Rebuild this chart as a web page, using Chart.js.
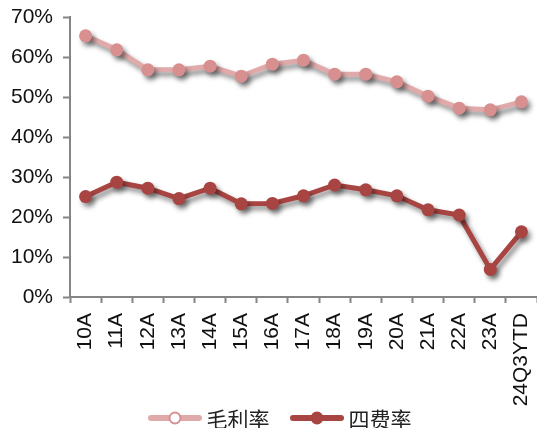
<!DOCTYPE html>
<html>
<head>
<meta charset="utf-8">
<script src="https://cdn.jsdelivr.net/npm/chart.js@4/dist/chart.umd.min.js"></script>
<style>
    html, body { margin: 0; padding: 0; background: #fff; overflow: hidden; }
    #wrap { position: relative; width: 537px; height: 428px; }
    #chart { display: block; }
    .legend {
        position: absolute; left: 0; right: 0; top: 403px;
        display: flex; justify-content: center; align-items: center;
        padding-left: 22px;
        font-family: "Noto Sans CJK SC", sans-serif; font-size: 21px; color: #222;
    }
    .legend .item { display: flex; align-items: center; }
    .legend .item + .item { margin-left: 20px; }
    .legend svg { margin-right: 5px; }
</style>
</head>
<body>
<div id="wrap">
    <canvas id="chart"></canvas>
    <div class="legend" id="legend"></div>
</div>
<script>
// Dados do gráfico
const categories = ['10A', '11A', '12A', '13A', '14A', '15A', '16A', '17A', '18A', '19A', '20A', '21A', '22A', '23A', '24Q3YTD'];
const grossMargin = [65.3, 61.8, 56.8, 56.8, 57.7, 55.2, 58.2, 59.2, 55.7, 55.7, 53.8, 50.2, 47.2, 46.8, 48.8];
const expenseRate = [25.1, 28.7, 27.2, 24.6, 27.2, 23.3, 23.4, 25.3, 28.0, 26.8, 25.3, 21.8, 20.5, 6.9, 16.3];
const yTicks = [0, 10, 20, 30, 40, 50, 60, 70];

const pinkLine = '#e1aaaa';
const pinkMark = '#d88f8f';
const redLine = '#a84542';
const axisColor = '#858585';
const tickFont = { family: '"Liberation Sans", Arial, sans-serif', size: 21 };

// Sombra nas séries
const shadowPlugin = {
    id: 'shadow',
    beforeDatasetDraw(chart) {
        const ctx = chart.ctx;
        ctx.save();
        ctx.shadowColor = 'rgba(0, 0, 0, 0.45)';
        ctx.shadowBlur = 5;
        ctx.shadowOffsetX = 3;
        ctx.shadowOffsetY = 4;
    },
    afterDatasetDraw(chart) {
        chart.ctx.restore();
    }
};

// Remove o padding automático dos eixos
const noPadding = (scale) => {
    scale.paddingLeft = 0;
    scale.paddingRight = 0;
    scale.paddingTop = 0;
    scale.paddingBottom = 0;
};

const chart = new Chart(document.getElementById('chart'), {
    type: 'line',
    data: {
        labels: categories,
        datasets: [{
            label: '毛利率',
            data: grossMargin,
            borderColor: pinkLine,
            backgroundColor: pinkMark,
            borderWidth: 5,
            pointRadius: 6.5,
            pointBorderWidth: 0,
            pointBackgroundColor: pinkMark,
            tension: 0
        }, {
            label: '四费率',
            data: expenseRate,
            borderColor: redLine,
            backgroundColor: redLine,
            borderWidth: 5,
            pointRadius: 6.5,
            pointBorderWidth: 0,
            pointBackgroundColor: redLine,
            tension: 0
        }]
    },
    plugins: [shadowPlugin],
    options: {
        responsive: true,
        maintainAspectRatio: false,
        animation: false,
        layout: { autoPadding: false, padding: { top: 17, right: 0, left: 0, bottom: 0 } },
        plugins: {
            tooltip: { enabled: false },
            legend: { display: false }
        },
        scales: {
            x: {
                offset: true,
                grid: {
                    display: true,
                    offset: true,
                    drawOnChartArea: false,
                    tickLength: 6,
                    tickWidth: 2,
                    tickColor: axisColor
                },
                border: { color: axisColor, width: 2 },
                ticks: {
                    minRotation: 90,
                    maxRotation: 90,
                    padding: 10,
                    color: '#111',
                    font: tickFont
                },
                afterFit: (scale) => { scale.height = 131; noPadding(scale); }
            },
            y: {
                min: 0,
                max: 70,
                afterBuildTicks: (scale) => { scale.ticks = yTicks.map(v => ({ value: v })); },
                grid: {
                    display: true,
                    drawOnChartArea: false,
                    tickLength: 7,
                    tickWidth: 2,
                    tickColor: axisColor
                },
                border: { color: axisColor, width: 2 },
                ticks: {
                    padding: 10,
                    color: '#111',
                    font: tickFont,
                    callback: (v) => v + '%'
                },
                afterFit: (scale) => { scale.width = 70; noPadding(scale); }
            }
        }
    }
});

// Legenda em HTML: linha com círculo
const icon = (lineColor, markFill) => `
    <svg width="54" height="14" viewBox="0 0 54 14">
        <line x1="3" y1="7" x2="51" y2="7" stroke="${lineColor}" stroke-width="6" stroke-linecap="round"/>
        <circle cx="27" cy="7" r="5.5" fill="${markFill}" stroke="${lineColor === pinkLine ? pinkMark : lineColor}" stroke-width="2"/>
    </svg>`;

document.getElementById('legend').innerHTML = chart.data.datasets.map((ds, i) => `
    <div class="item">${icon(ds.borderColor, i === 0 ? '#fff' : ds.borderColor)}<span>${ds.label}</span></div>
`).join('');
</script>
</body>
</html>
